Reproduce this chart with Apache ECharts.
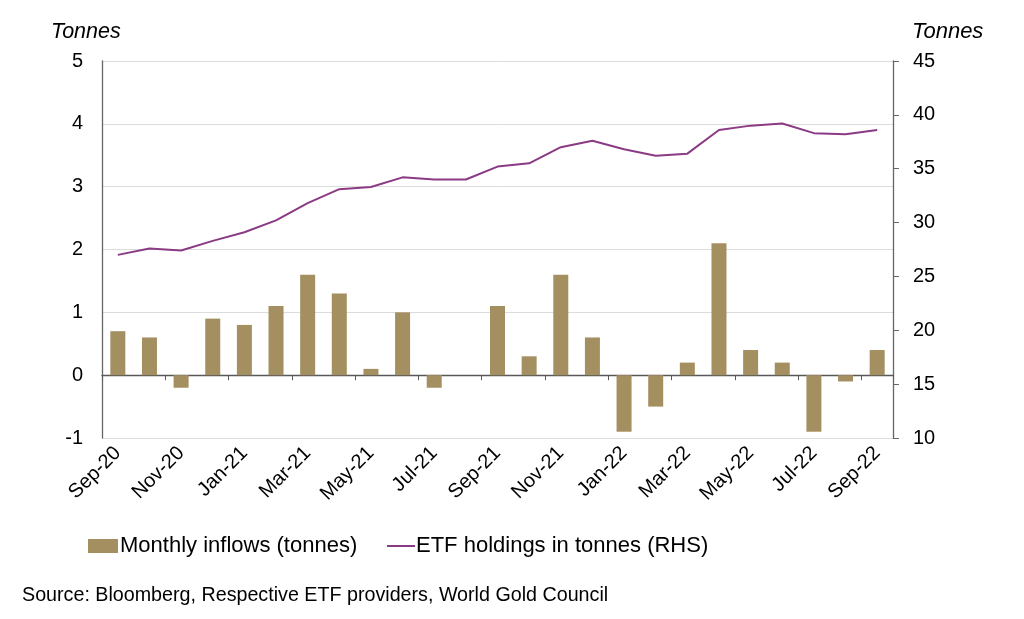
<!DOCTYPE html>
<html>
<head>
<meta charset="utf-8">
<script src="https://cdn.jsdelivr.net/npm/echarts@6/dist/echarts.min.js"></script>
<style>
html,body{margin:0;padding:0;background:#fff;}
#c{width:1024px;height:619px;}
</style>
</head>
<body>
<div id="c"></div>
<script>
const months = ['Sep-20','Oct-20','Nov-20','Dec-20','Jan-21','Feb-21','Mar-21','Apr-21','May-21','Jun-21','Jul-21','Aug-21','Sep-21','Oct-21','Nov-21','Dec-21','Jan-22','Feb-22','Mar-22','Apr-22','May-22','Jun-22','Jul-22','Aug-22','Sep-22'];
const monthlyInflows = [0.7,0.6,-0.2,0.9,0.8,1.1,1.6,1.3,0.1,1.0,-0.2,0,1.1,0.3,1.6,0.6,-0.9,-0.5,0.2,2.1,0.4,0.2,-0.9,-0.1,0.4];
const etfHoldings = [27.0,27.6,27.4,28.3,29.1,30.2,31.8,33.1,33.3,34.2,34.0,34.0,35.2,35.5,37.0,37.6,36.8,36.2,36.4,38.6,39.0,39.2,38.3,38.2,38.6];
const leftTicks = {min:-1, max:5, interval:1};
const rightTicks = {min:10, max:45, interval:5};
const barName = 'Monthly inflows (tonnes)';
const lineName = 'ETF holdings in tonnes (RHS)';
const axisTitle = 'Tonnes';
const sourceText = 'Source: Bloomberg, Respective ETF providers, World Gold Council';

const FONT = 'Liberation Sans, Arial, sans-serif';
const chart = echarts.init(document.getElementById('c'), null, {renderer:'canvas'});
chart.setOption({
  animation:false,
  backgroundColor:'#fff',
  textStyle:{fontFamily:FONT},
  grid:{left:102, right:131, top:61, bottom:181, containLabel:false},
  legend:[
    {data:[barName], left:88, top:535, itemWidth:30, itemHeight:14, icon:'rect', padding:0,
     textStyle:{fontSize:22, color:'#000', fontFamily:FONT, padding:[0,0,0,-3]}},
    {data:[lineName], left:387, top:535, itemWidth:28, itemHeight:2, icon:'rect', padding:0,
     textStyle:{fontSize:22, color:'#000', fontFamily:FONT, padding:[0,0,0,-4]}}
  ],
  graphic:[
    {type:'text', left:51, top:21, style:{text:axisTitle, font:'italic 21.5px '+FONT, fill:'#000'}},
    {type:'text', left:912, top:21, style:{text:axisTitle, font:'italic 22px '+FONT, fill:'#000'}},
    {type:'text', left:22, top:586, style:{text:sourceText, font:'19.7px '+FONT, fill:'#000'}}
  ],
  xAxis:[
    {type:'category', data:months, position:'bottom', boundaryGap:true,
     axisLine:{show:false, onZero:false}, axisTick:{show:false},
     axisLabel:{interval:1, rotate:45, fontSize:20, color:'#000', margin:12, fontFamily:FONT},
     splitLine:{show:false}},
    {type:'category', data:months, position:'bottom', boundaryGap:true,
     axisLine:{show:true, onZero:true, onZeroAxisIndex:0, lineStyle:{color:'#595959', width:1.3}},
     axisTick:{show:true, interval:1, length:5, inside:false, lineStyle:{color:'#595959'}},
     axisLabel:{show:false}, splitLine:{show:false}}
  ],
  yAxis:[
    {type:'value', min:leftTicks.min, max:leftTicks.max, interval:leftTicks.interval, position:'left',
     axisLine:{show:true, lineStyle:{color:'#666', width:1.3}}, axisTick:{show:false},
     axisLabel:{fontSize:20, color:'#000', margin:19, fontFamily:FONT},
     splitLine:{show:true, lineStyle:{color:'#dcdcdc', width:1}}},
    {type:'value', min:rightTicks.min, max:rightTicks.max, interval:rightTicks.interval, position:'right',
     axisLine:{show:true, lineStyle:{color:'#666', width:1.3}},
     axisTick:{show:true, length:6, lineStyle:{color:'#666'}},
     axisLabel:{fontSize:20, color:'#000', margin:20, fontFamily:FONT},
     splitLine:{show:false}}
  ],
  series:[
    {name:barName, type:'bar', data:monthlyInflows, xAxisIndex:0, yAxisIndex:0,
     barWidth:15, itemStyle:{color:'#A48F60'}, z:2},
    {name:lineName, type:'line', data:etfHoldings, xAxisIndex:0, yAxisIndex:1,
     symbol:'none', lineStyle:{color:'#8B3A84', width:2}, itemStyle:{color:'#8B3A84'}, z:3}
  ]
});
</script>
</body>
</html>
